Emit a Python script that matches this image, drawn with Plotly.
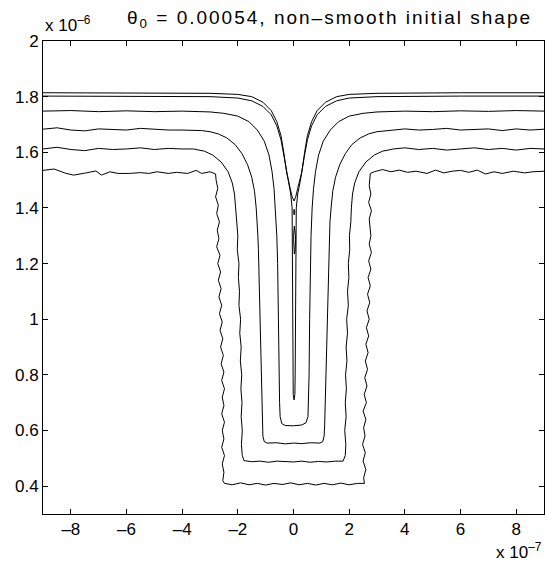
import plotly.graph_objects as go

# units: x in 1e-7 m, y in 1e-6 m
# Curve 1: initial (non-smooth) shape
c1_x = [-9.0,-8.6,-8.2,-7.9,-7.5,-7.1,-6.9,-6.6,-6.3,-5.9,-5.5,-5.2,-4.9,-4.5,-4.2,-3.8,-3.5,-3.3,-3.0,-2.8,
        -2.78,-2.72,-2.80,-2.70,-2.76,-2.66,-2.74,-2.68,-2.76,-2.64,-2.72,-2.62,-2.70,-2.60,-2.68,-2.58,-2.66,-2.56,-2.64,-2.54,
        -2.62,-2.52,-2.60,-2.50,-2.58,-2.48,-2.56,-2.50,-2.58,-2.48,-2.56,-2.50,-2.58,-2.48,-2.56,-2.50,-2.54,-2.48,
        -2.2,-1.9,-1.6,-1.3,-1.0,-0.7,-0.4,-0.1,0.2,0.5,0.8,1.1,1.4,1.7,2.0,2.3,2.55,
        2.52,2.60,2.50,2.58,2.48,2.57,2.52,2.60,2.50,2.62,2.54,2.64,2.56,2.66,2.58,2.68,2.60,2.70,2.62,2.72,2.64,2.74,2.66,2.76,2.68,2.78,2.70,2.80,2.72,2.78,2.75,
        2.72,2.80,2.70,2.78,2.72,2.76,
        2.9,3.2,3.5,3.8,4.1,4.4,4.8,5.1,5.4,5.7,6.0,6.3,6.6,6.9,7.2,7.5,7.9,8.3,8.6,9.0]
c1_y = [1.535,1.540,1.525,1.518,1.525,1.533,1.518,1.530,1.524,1.524,1.527,1.524,1.530,1.524,1.528,1.524,1.535,1.524,1.530,1.522,
        1.50,1.47,1.44,1.41,1.38,1.35,1.32,1.29,1.26,1.23,1.20,1.17,1.14,1.11,1.08,1.05,1.02,0.99,0.96,0.93,
        0.90,0.87,0.84,0.81,0.78,0.75,0.72,0.69,0.66,0.63,0.60,0.57,0.54,0.51,0.48,0.45,0.42,0.41,
        0.405,0.412,0.405,0.410,0.404,0.410,0.406,0.412,0.405,0.410,0.404,0.410,0.405,0.411,0.405,0.410,0.410,
        0.43,0.46,0.49,0.52,0.55,0.58,0.61,0.64,0.67,0.70,0.73,0.76,0.79,0.82,0.85,0.88,0.91,0.94,0.97,1.00,1.03,1.06,1.09,1.12,1.15,1.18,1.21,1.24,1.27,1.30,1.33,
        1.36,1.39,1.42,1.45,1.48,1.524,
        1.530,1.538,1.530,1.536,1.528,1.532,1.524,1.536,1.526,1.532,1.535,1.528,1.536,1.522,1.530,1.524,1.532,1.526,1.530,1.532]

# Curve 2
c2_x = [-9.0,-8.5,-8.0,-7.5,-7.0,-6.5,-6.0,-5.5,-5.0,-4.5,-4.0,-3.6,-3.2,-2.9,-2.6,-2.35,-2.2,-2.12,-2.08,
        -2.05,-2.00,-2.02,-1.96,-1.98,-1.94,-1.96,-1.90,-1.93,-1.88,-1.91,-1.86,-1.89,-1.85,-1.88,-1.84,-1.87,-1.84,-1.78,
        -1.5,-1.2,-0.9,-0.6,-0.3,0.0,0.3,0.6,0.9,1.2,1.5,1.78,
        1.86,1.88,1.84,1.89,1.86,1.90,1.87,1.92,1.89,1.94,1.91,1.97,1.94,1.99,1.97,2.02,2.01,2.06,2.08,2.12,2.2,2.35,2.6,2.9,3.2,3.6,
        4.0,4.5,5.0,5.5,6.0,6.5,7.0,7.5,8.0,8.5,9.0]
c2_y = [1.612,1.618,1.610,1.606,1.614,1.610,1.612,1.616,1.610,1.614,1.612,1.612,1.604,1.590,1.565,1.530,1.490,1.450,1.400,
        1.35,1.30,1.25,1.20,1.15,1.10,1.05,1.00,0.95,0.90,0.85,0.80,0.75,0.70,0.65,0.60,0.55,0.51,0.492,
        0.488,0.490,0.486,0.490,0.488,0.487,0.490,0.486,0.489,0.487,0.490,0.490,
        0.51,0.55,0.60,0.65,0.70,0.75,0.80,0.85,0.90,0.95,1.00,1.05,1.10,1.15,1.20,1.25,1.30,1.35,1.40,1.45,1.49,1.53,1.565,1.590,1.604,1.612,
        1.616,1.610,1.614,1.608,1.612,1.616,1.610,1.614,1.608,1.614,1.612]

# Curve 3
c3_x = [-9.0,-8.5,-8.0,-7.5,-7.0,-6.5,-6.0,-5.5,-5.0,-4.5,-4.0,-3.6,-3.3,-3.0,-2.7,-2.4,-2.1,-1.85,-1.65,-1.5,-1.4,-1.34,
        -1.30,-1.28,-1.26,-1.25,-1.22,-1.20,-1.18,-1.15,-1.14,-1.12,-1.10,-1.05,-0.95,
        -0.6,-0.3,0.0,0.3,0.6,0.95,
        1.05,1.10,1.12,1.14,1.16,1.19,1.21,1.23,1.26,1.27,1.29,1.31,1.35,1.41,1.51,1.66,1.86,2.1,2.4,2.7,3.0,3.3,3.6,
        4.0,4.5,5.0,5.5,6.0,6.5,7.0,7.5,8.0,8.5,9.0]
c3_y = [1.683,1.688,1.680,1.677,1.684,1.682,1.680,1.686,1.682,1.680,1.680,1.680,1.678,1.674,1.666,1.652,1.628,1.595,1.555,1.51,1.46,1.40,
        1.35,1.30,1.25,1.20,1.10,1.00,0.90,0.80,0.70,0.62,0.58,0.56,0.555,
        0.556,0.552,0.555,0.553,0.556,0.555,
        0.56,0.58,0.62,0.70,0.80,0.90,1.00,1.10,1.20,1.25,1.30,1.35,1.40,1.46,1.51,1.555,1.595,1.628,1.652,1.666,1.674,1.678,1.680,
        1.684,1.680,1.682,1.686,1.680,1.682,1.684,1.678,1.684,1.680,1.683]

# Curve 4
c4_x = [-9.0,-8.0,-7.0,-6.0,-5.0,-4.0,-3.0,-2.5,-2.0,-1.6,-1.3,-1.05,-0.88,-0.77,-0.70,-0.65,-0.60,-0.57,-0.55,-0.52,-0.50,-0.48,-0.42,-0.30,
        0.0,0.30,0.45,0.52,0.54,0.56,0.58,0.60,0.63,0.67,0.72,0.79,0.90,1.07,1.32,1.62,2.0,2.5,3.0,4.0,5.0,6.0,7.0,8.0,9.0]
c4_y = [1.748,1.750,1.746,1.749,1.746,1.748,1.745,1.740,1.730,1.710,1.680,1.640,1.590,1.530,1.470,1.400,1.300,1.200,1.000,0.800,0.700,0.650,0.625,0.618,
        0.617,0.620,0.628,0.650,0.700,0.800,1.000,1.200,1.300,1.400,1.470,1.530,1.590,1.640,1.680,1.710,1.730,1.740,1.745,1.748,1.746,1.749,1.747,1.750,1.748]

# Curve 5 (V with slit)
c5_x = [-9.0,-6.0,-3.0,-2.0,-1.5,-1.1,-0.8,-0.6,-0.45,-0.33,-0.20,-0.10,-0.05,-0.04,-0.03,-0.02,-0.01,0.02,0.05,
        0.06,0.07,0.08,0.10,0.15,0.25,0.38,0.50,0.65,0.85,1.15,1.55,2.0,3.0,6.0,9.0]
c5_y = [1.802,1.802,1.800,1.795,1.785,1.765,1.735,1.695,1.645,1.580,1.500,1.450,1.400,1.200,1.000,0.800,0.730,0.710,0.730,
        0.800,1.000,1.200,1.400,1.450,1.500,1.580,1.645,1.695,1.735,1.765,1.785,1.795,1.800,1.802,1.802]

# Curve 6 (V, pinched)
c6_x = [-9.0,-6.0,-3.0,-2.0,-1.5,-1.1,-0.8,-0.6,-0.45,-0.35,-0.25,-0.12,-0.05,0.02,0.08,0.15,0.30,0.40,0.50,0.65,0.85,1.15,1.55,2.0,3.0,6.0,9.0]
c6_y = [1.814,1.814,1.812,1.808,1.800,1.780,1.750,1.710,1.660,1.600,1.530,1.470,1.440,1.425,1.440,1.470,1.530,1.600,1.660,1.710,1.750,1.780,1.800,1.808,1.812,1.814,1.814]

# voids (closed loops)
v1_x = [0.02,0.035,0.045,0.035,0.02,0.01,0.02]
v1_y = [1.395,1.392,1.385,1.378,1.375,1.385,1.395]
v2_x = [0.03,0.055,0.07,0.075,0.07,0.055,0.03,0.01,0.005,0.01,0.03]
v2_y = [1.335,1.32,1.30,1.285,1.26,1.245,1.235,1.255,1.285,1.31,1.335]

curves = [(c1_x, c1_y), (c2_x, c2_y), (c3_x, c3_y), (c4_x, c4_y), (c5_x, c5_y), (c6_x, c6_y), (v1_x, v1_y), (v2_x, v2_y)]

x_ticks = [-8, -6, -4, -2, 0, 2, 4, 6, 8]
x_ticktext = ["\u20138", "\u20136", "\u20134", "\u20132", "0", "2", "4", "6", "8"]
y_ticks = [0.4, 0.6, 0.8, 1.0, 1.2, 1.4, 1.6, 1.8, 2.0]
y_ticktext = ["0.4", "0.6", "0.8", "1", "1.2", "1.4", "1.6", "1.8", "2"]
title_text = "\u03b8<sub>0</sub> = 0.00054, non\u2013smooth initial shape"

fig = go.Figure()
for cx, cy in curves:
    fig.add_trace(go.Scatter(x=cx, y=cy, mode="lines", line=dict(color="black", width=1), showlegend=False, hoverinfo="skip"))

font = dict(family="Liberation Sans, Arial, Helvetica, sans-serif", size=17, color="black")
title_font = dict(family="Liberation Sans, Arial, Helvetica, sans-serif", size=19, color="black")
axis_common = dict(showgrid=False, zeroline=False, showline=True, linecolor="black", linewidth=1,
                   mirror="allticks", ticks="inside", ticklen=5, tickcolor="black", tickwidth=1, tickfont=font)
fig.update_xaxes(range=[-9, 9], tickvals=x_ticks, ticktext=x_ticktext, **axis_common)
fig.update_yaxes(range=[0.3, 2.0], tickvals=y_ticks, ticktext=y_ticktext, **axis_common)

fig.update_layout(
    width=545, height=566,
    margin=dict(l=43, r=1, t=41, b=52),
    paper_bgcolor="white", plot_bgcolor="white",
    font=font,
    annotations=[
        dict(text='<span style="letter-spacing:2px">' + title_text + '</span>', xref="paper", yref="paper",
             x=0.571, y=1, xanchor="center", yanchor="bottom", yshift=8, showarrow=False, font=title_font),
        dict(text="x 10<sup>\u20136</sup>", xref="paper", yref="paper", x=0, y=1, xanchor="left", yanchor="bottom",
             yshift=4, showarrow=False, font=font),
        dict(text="x 10<sup>\u20137</sup>", xref="paper", yref="paper", x=1, y=0, xanchor="right", yanchor="top",
             yshift=-24, showarrow=False, font=font),
    ],
)
fig.write_html("out.html")
